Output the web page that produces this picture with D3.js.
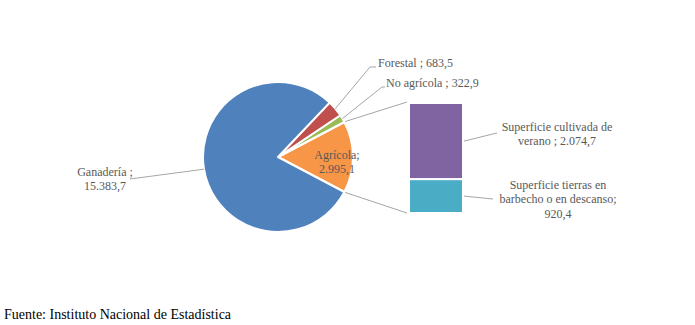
<!DOCTYPE html>
<html><head><meta charset="utf-8">
<script src="https://cdn.jsdelivr.net/npm/d3@7"></script>
<style>body{margin:0;background:#fff}svg{display:block}</style>
</head><body>
<svg id="c" width="695" height="325"></svg>
<script>
// ---- data ----
const pieCategories = ["Agrícola", "No agrícola", "Forestal", "Ganadería"];
const pieValues = [2995.1, 322.9, 683.5, 15383.7];
const pieLabelText = [["Agrícola;", "2.995,1"], ["No agrícola ; 322,9"], ["Forestal ; 683,5"], ["Ganadería ;", "15.383,7"]];
const barCategories = ["Superficie cultivada de verano", "Superficie tierras en barbecho o en descanso"];
const barValues = [2074.7, 920.4];
const barLabelText = [["Superficie cultivada de", "verano ; 2.074,7"], ["Superficie tierras  en", "barbecho o en descanso;", "920,4"]];
const sourceText = "Fuente: Instituto Nacional de Estadística";

// ---- style / layout ----
const pieColors = ["#F79646", "#9BBB59", "#C0504D", "#4F81BD"];
const barColors = ["#8064A2", "#4BACC6"];
const cx = 278, cy = 157, R = 75;
const barX = 409, barW = 54, barTop = 103, barBottom = 213;
const FONT = '"Liberation Serif"';
const K = 2; // render text larger then scale down
const textColor = "#595959", lineColor = "#A6A6A6";

const svg = d3.select("#c");
const total = d3.sum(pieValues);
const otherAngle = pieValues[0] / total * 2 * Math.PI;
const start = Math.PI / 2 + otherAngle / 2;
const pie = d3.pie().sort(null).value(d => d)
  .startAngle(start).endAngle(start - 2 * Math.PI);
const arcs = pie(pieValues);
const arc = d3.arc().innerRadius(0).outerRadius(R);
const g = svg.append("g").attr("transform", `translate(${cx},${cy})`);
g.selectAll("path").data(arcs).join("path")
  .attr("d", arc).attr("fill", (d, i) => pieColors[i])
  .attr("stroke", "#fff").attr("stroke-width", 2).attr("stroke-linejoin", "round");

const pt = (a, r) => [cx + r * Math.sin(a), cy - r * Math.cos(a)];

const y = d3.scaleLinear().domain([0, d3.sum(barValues)]).range([barTop, barBottom]);
let acc = 0;
const segs = barValues.map((v, i) => { const s = {i, y0: acc, y1: acc + v}; acc += v; return s; });
svg.selectAll("rect.bar").data(segs).join("rect")
  .attr("x", barX).attr("width", barW)
  .attr("y", d => y(d.y0)).attr("height", d => y(d.y1) - y(d.y0))
  .attr("fill", d => barColors[d.i]).attr("stroke", "#fff").attr("stroke-width", 2);

const line = (pts) => svg.append("polyline").attr("points", pts.map(p => p.join(",")).join(" "))
  .attr("fill", "none").attr("stroke", lineColor).attr("stroke-width", 1);
const aUp = Math.min(arcs[0].startAngle, arcs[0].endAngle), aDn = Math.max(arcs[0].startAngle, arcs[0].endAngle);
line([pt(aUp, R + 1), [barX - 2, barTop - 1]]);
line([pt(aDn, R + 1), [barX - 2, barBottom]]);

const mid = d => (d.startAngle + d.endAngle) / 2;
function text(lines, x, yc, anchor, color, size, lh) {
  const n = lines.length;
  lines.forEach((l, k) => {
    const yy = yc + (k - (n - 1) / 2) * lh;
    svg.append("g").attr("transform", `translate(${x},${yy}) scale(${1 / K})`)
      .append("text").style("font-family", FONT).style("font-size", (size * K) + "px")
      .attr("fill", color).attr("text-anchor", anchor).attr("dy", "0.35em").text(l);
  });
}
text(pieLabelText[0], 337, 162, "middle", textColor, 12, 14);
line([pt(mid(arcs[1]), R), [382, 87], [385, 87]]);
text(pieLabelText[1], 386, 83, "start", textColor, 12, 14);
line([pt(mid(arcs[2]), R), [370, 67], [376, 67]]);
text(pieLabelText[2], 378, 63, "start", textColor, 12, 14);
line([pt(mid(arcs[3]), R), [130, 179]]);
text(pieLabelText[3], 105, 179, "middle", textColor, 12, 14);

const segMid = d => (y(d.y0) + y(d.y1)) / 2;
line([[barX + barW + 1, segMid(segs[0])], [497, 133]]);
text(barLabelText[0], 557, 134, "middle", textColor, 12, 14);
line([[barX + barW + 1, segMid(segs[1])], [493, 199]]);
text(barLabelText[1], 558, 199, "middle", textColor, 12, 14.5);

svg.append("text").attr("x", 4).attr("y", 319).style("font-family", FONT).style("font-size", "14px")
  .attr("fill", "#000").text(sourceText);
</script>
</body></html>
